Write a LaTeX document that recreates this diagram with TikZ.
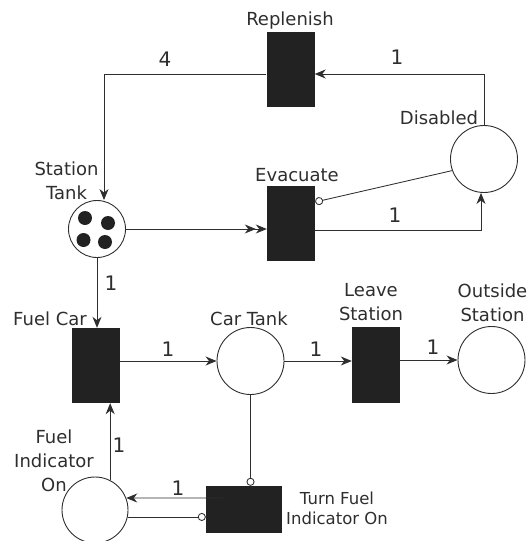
\documentclass[tikz,border=0pt]{standalone}
\usepackage{fontspec}
\setmainfont{DejaVu Sans}
\usetikzlibrary{arrows.meta,calc}
\definecolor{tbox}{HTML}{222222}
\definecolor{tline}{HTML}{2E2E2E}
\begin{document}
\begin{tikzpicture}[x=1pt,y=-1pt,
  trans/.style={rectangle,fill=tbox,draw=none,minimum width=48pt,minimum height=75pt,inner sep=0pt},
  place/.style={circle,draw=tline,line width=0.9pt,minimum size=67pt,inner sep=0pt},
  token/.style={circle,fill=tbox,draw=none,minimum size=14pt,inner sep=0pt},
  arc/.style={draw=tline,line width=0.85pt,-{Stealth[length=11pt,width=9pt,inset=3.5pt]}},
  darc/.style={draw=tline,line width=0.85pt,-{Stealth[length=11pt,width=9pt,inset=3.5pt]Stealth[length=11pt,width=9pt,inset=3.5pt]}},
  inh/.style={draw=tline,line width=0.85pt,-{Circle[length=8pt,width=8pt,fill=white]}},
  lbl/.style={font=\fontsize{18}{24}\selectfont,text=tline,align=center,inner sep=0pt},
  slbl/.style={font=\fontsize{16.5}{20}\selectfont,text=tline,align=center,inner sep=0pt},
  wlbl/.style={font=\fontsize{20}{24}\selectfont,text=tline,inner sep=0pt}]
\useasboundingbox (0,0) rectangle (531,541);
% transitions
\node[trans] (rep) at (290.5,69.5) {};
\node[trans] (evac) at (291,223.5) {};
\node[trans] (fuelcar) at (96,365.5) {};
\node[trans,minimum height=76pt] (leave) at (376,365) {};
\node[trans,minimum width=76pt,minimum height=47pt] (turn) at (244,509.5) {};
% places
\node[place,minimum size=57pt] (stank) at (97,229) {};
\node[place] (disabled) at (484,159) {};
\node[place] (cartank) at (250.5,361) {};
\node[place] (outside) at (491.5,360) {};
\node[place,minimum size=66pt] (fio) at (95,510) {};
% tokens
\node[token] (tk1) at (85,218) {};
\node[token] (tk2) at (108,223) {};
\node[token] (tk3) at (83.5,240) {};
\node[token] (tk4) at (105,242) {};
% node labels
\node[lbl] (lrep) at (290,21) {Replenish};
\node[lbl] (levac) at (297,175) {Evacuate};
\node[lbl] (lstank) at (66.5,181) {Station\\Tank};
\node[lbl] (ldis) at (439,118) {Disabled};
\node[lbl] (lfuel) at (50,319) {Fuel Car};
\node[lbl] (lcar) at (249,319) {Car Tank};
\node[lbl] (lleave) at (371,302) {Leave\\Station};
\node[lbl] (lout) at (492.5,303) {Outside\\Station};
\node[lbl] (lfio) at (54,461) {Fuel\\Indicator\\On};
\node[slbl] (lturn) at (337,508.5) {Turn Fuel\\Indicator On};
% arcs
\draw[arc] ([yshift=-4.5pt]rep.west) -| ([xshift=7pt]stank.north);
\node[wlbl] (w1) at (165,59) {4};
\draw[arc] (disabled.north) |- ([yshift=-4.5pt]rep.east);
\node[wlbl] (w2) at (397,57) {1};
\draw[darc] (stank.east) -- (stank.east -| evac.west);
\draw[arc] ([yshift=-6.5pt]evac.east) -| ([xshift=-3pt]disabled.south);
\node[wlbl] (w3) at (395,215) {1};
\draw[inh] (disabled.200) -- ([yshift=21.5pt]evac.east);
\draw[arc] (stank.south) -- (stank.south |- fuelcar.north);
\node[wlbl] (w4) at (111,283) {1};
\draw[arc] (fuelcar.east |- cartank.west) -- (cartank.west);
\node[wlbl] (w5) at (168,349) {1};
\draw[arc] (cartank.east) -- (cartank.east -| leave.west);
\node[wlbl] (w6) at (316,349) {1};
\draw[arc] (leave.east |- outside.west) -- (outside.west);
\node[wlbl] (w7) at (433,347) {1};
\draw[inh] (cartank.south) -- (cartank.south |- turn.north);
\coordinate (tstart) at ([xshift=-21pt,yshift=11.5pt]turn.center);
\draw[arc] (tstart) -- (fio.21);
\node[wlbl] (w8) at (178,488) {1};
\draw[inh] (fio.-12) -- (fio.-12 -| turn.west);
\draw[arc] (fio.63) -- (fio.63 |- fuelcar.south);
\node[wlbl] (w9) at (119,445) {1};
\end{tikzpicture}
\end{document}
